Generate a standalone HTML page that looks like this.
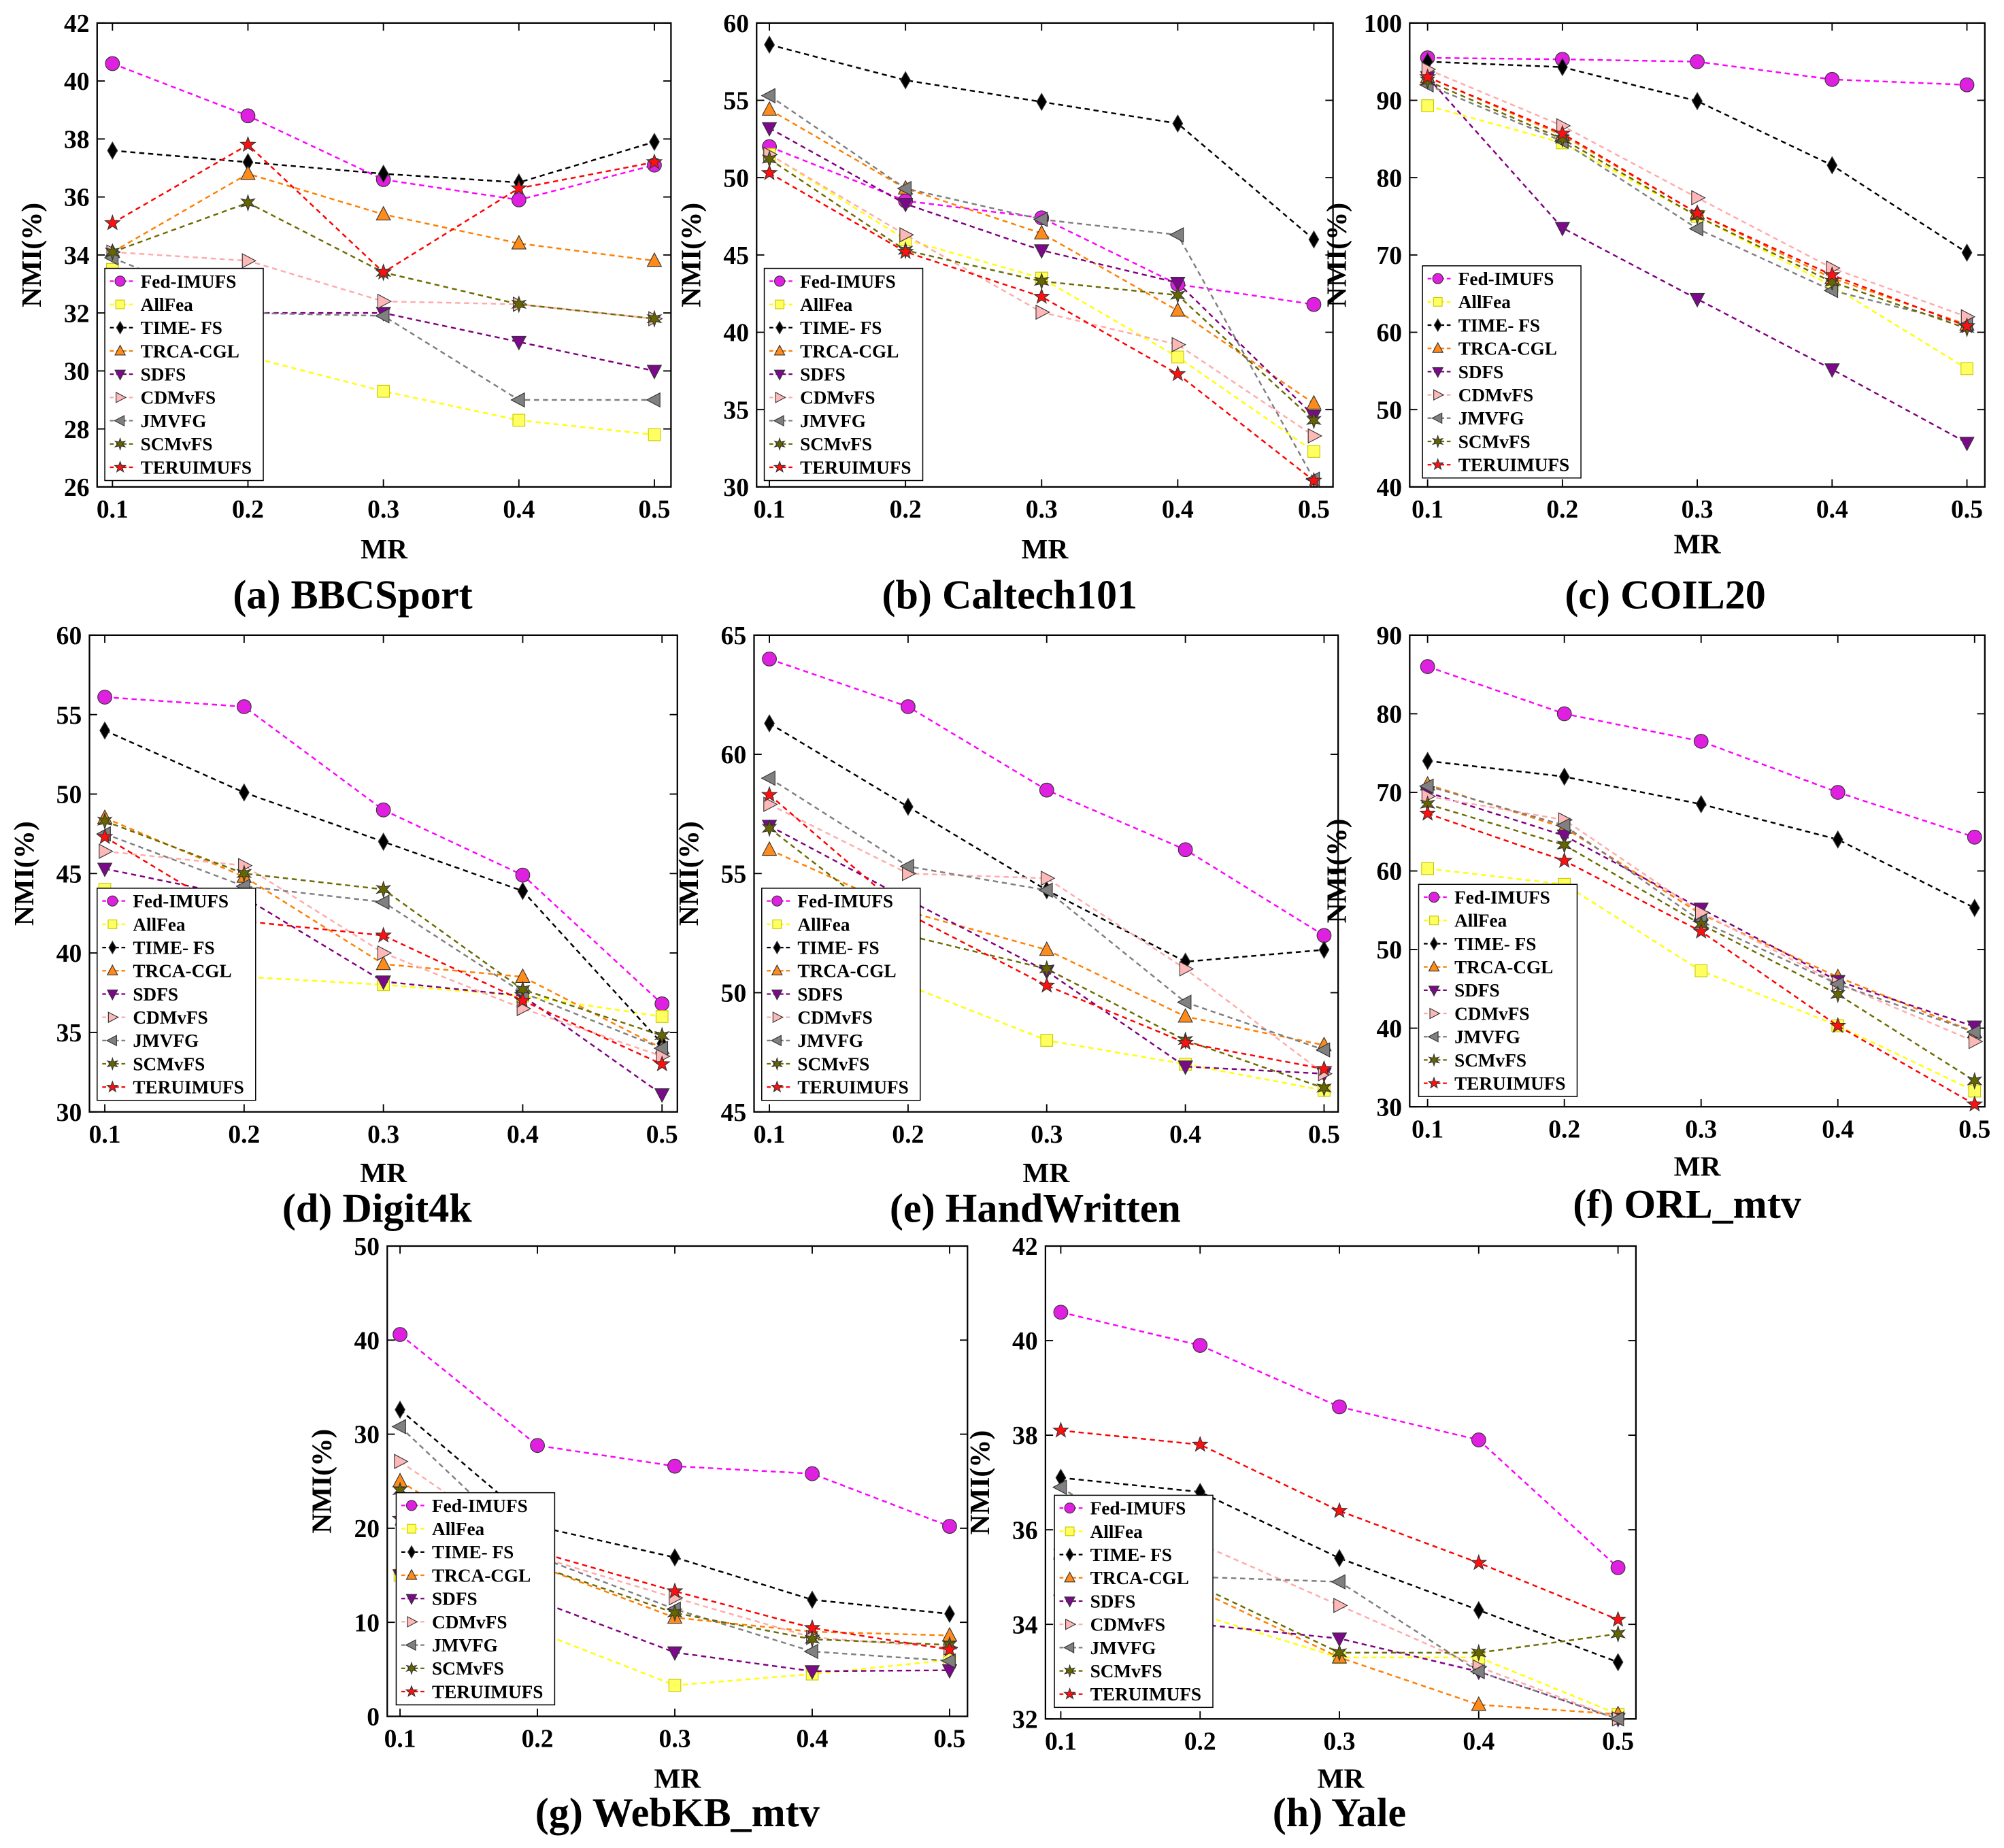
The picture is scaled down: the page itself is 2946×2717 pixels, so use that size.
<!DOCTYPE html>
<html><head><meta charset="utf-8"><style>
html,body{margin:0;padding:0;background:#fff}
svg{display:block}
text{font-family:"Liberation Serif",serif;font-weight:bold;fill:#000}
</style></head><body>
<svg id="fig" width="2946" height="2717" viewBox="0 0 1568 1446" preserveAspectRatio="none" xmlns="http://www.w3.org/2000/svg"></svg>
<script>
const mrValues=[0.1,0.2,0.3,0.4,0.5];
const seriesNames=["Fed-IMUFS","AllFea","TIME- FS","TRCA-CGL","SDFS","CDMvFS","JMVFG","SCMvFS","TERUIMUFS"];
const bbcsport=[[40.6,38.8,36.6,35.9,37.1],[33.5,30.5,29.3,28.3,27.8],[37.6,37.2,36.8,36.5,37.9],[34.1,36.8,35.4,34.4,33.8],[32.0,32.0,32.0,31.0,30.0],[34.1,33.8,32.4,32.3,31.8],[33.9,32.0,31.9,29.0,29.0],[34.1,35.8,33.4,32.3,31.8],[35.1,37.8,33.4,36.3,37.2]];
const caltech=[[52,48.5,47.4,43.1,41.8],[51.5,46,43.5,38.4,32.3],[58.6,56.3,54.9,53.5,46],[54.4,49.3,46.4,41.4,35.4],[53.2,48.3,45.3,43.2,34.6],[51.5,46.3,41.3,39.2,33.3],[55.3,49.3,47.3,46.3,30.5],[51.2,45.3,43.3,42.4,34.3],[50.3,45.2,42.3,37.3,30.4]];
const coil20=[[95.5,95.3,95,92.7,92],[89.3,84.5,75,66,55.3],[95,94.3,89.9,81.6,70.3],[93,85.5,75.4,67,61],[93,73.5,64.3,55.2,45.7],[94,86.7,77.4,68.3,62],[92,84.7,73.4,65.4,61],[92.5,85,75,66.5,60.5],[93,85.7,75.4,67.4,60.8]];
const digit4k=[[56.1,55.5,49,44.9,36.8],[44,38.5,38,37.3,36],[54,50.1,47,43.9,34.3],[48.5,44.8,39.3,38.5,34],[45.3,43.5,38.2,37.3,31.1],[46.4,45.5,40,36.5,33.5],[47.5,44.2,43.2,37.5,34],[48.3,45,44,37.7,34.8],[47.3,42,41.1,37,33]];
const handwritten=[[64,62,58.5,56,52.4],[51,50.3,48,47,45.9],[61.3,57.8,54.3,51.3,51.8],[56,53.4,51.8,49,47.8],[57,53.9,50.9,46.9,46.6],[57.9,55,54.8,51,46.6],[59,55.3,54.3,49.6,47.6],[56.9,52.4,51,48,46],[58.3,53.3,50.3,47.9,46.8]];
const orl=[[86,80,76.5,70,64.3],[60.3,58.3,47.3,40.3,32],[74,72,68.5,64,55.3],[71,65.5,54.5,46.5,39.5],[70,64.5,55.2,46,40.2],[69.5,66.5,54.7,45.7,38.3],[70.8,65.8,53.6,45.6,39.5],[68.5,63.3,53.2,44.3,33.3],[67.3,61.3,52.3,40.3,30.3]];
const webkb=[[40.6,28.8,26.6,25.8,20.2],[15,9,3.3,4.5,6],[32.6,20.2,16.9,12.4,10.9],[25,16,10.5,9,8.6],[15,12.3,6.8,4.8,4.9],[27.1,17,12.6,8.4,7.3],[30.8,17,11.4,6.9,5.9],[24,16,11,8.2,7.6],[21,17.5,13.3,9.4,7.1]];
const yale=[[40.6,39.9,38.6,37.9,35.2],[35,34.2,33.3,33.3,32.1],[37.1,36.8,35.4,34.3,33.2],[35.5,34.7,33.3,32.3,32.1],[34.5,34.0,33.7,33.0,32.0],[36.3,35.7,34.4,33.1,32.0],[36.9,35.0,34.9,33.0,32.0],[35.5,34.8,33.4,33.4,33.8],[38.1,37.8,36.4,35.3,34.1]];
const xTickLabels=["0.1","0.2","0.3","0.4","0.5"];

const colors=["#ff00ff","#ffff00","#000000","#ff7f00","#7f007f","#ffaaaa","#7f7f7f","#6b6b00","#ff0000"];
const fills=["#e020e0","#ffff60","#000000","#ff8c1a","#7a0a8a","#ffb8b8","#808080","#666600","#ff1010"];
const marks=["circle","square","diamond","up","down","right","left","hex","star"];

const panels=[
 {name:"bbcsport",title:"(a) BBCSport",data:bbcsport,L:76,R:525,T:18,B:381,x1:88,x5:512,ymin:26,ymax:42,step:2,leg:[82,210],tx:276,ty:476,mry:437,yo:44},
 {name:"caltech101",title:"(b) Caltech101",data:caltech,L:592,R:1043,T:18,B:381,x1:602,x5:1028,ymin:30,ymax:60,step:5,leg:[598,210],tx:790,ty:476,mry:437,yo:44},
 {name:"coil20",title:"(c) COIL20",data:coil20,L:1103,R:1553,T:18,B:381,x1:1117,x5:1539,ymin:40,ymax:100,step:10,leg:[1113,208],tx:1303,ty:476,mry:433,yo:50},
 {name:"digit4k",title:"(d) Digit4k",data:digit4k,L:70,R:530,T:497,B:870,x1:82,x5:518,ymin:30,ymax:60,step:5,leg:[76,695],tx:295,ty:956,mry:925,yo:44},
 {name:"handwritten",title:"(e) HandWritten",data:handwritten,L:590,R:1047,T:497,B:870,x1:602,x5:1036,ymin:45,ymax:65,step:5,leg:[596,695],tx:810,ty:956,mry:925,yo:44},
 {name:"orl-mtv",title:"(f) ORL_mtv",data:orl,L:1103,R:1553,T:497,B:866,x1:1117,x5:1545,ymin:30,ymax:90,step:10,leg:[1110,692],tx:1320,ty:953,mry:920,yo:50},
 {name:"webkb-mtv",title:"(g) WebKB_mtv",data:webkb,L:303,R:757,T:975,B:1343,x1:313,x5:743,ymin:0,ymax:50,step:10,leg:[310,1168],tx:530,ty:1429,mry:1399,yo:44},
 {name:"yale",title:"(h) Yale",data:yale,L:818,R:1280,T:975,B:1345,x1:830,x5:1266,ymin:32,ymax:42,step:2,leg:[825,1170],tx:1048,ty:1429,mry:1399,yo:44}
];
const NS="http://www.w3.org/2000/svg";
const svg=document.getElementById("fig");
function mk(tag,attrs,parent){const e=document.createElementNS(NS,tag);for(const k in attrs)e.setAttribute(k,attrs[k]);(parent||svg).appendChild(e);return e;}
function marker(g,type,x,y,i,s){
 s=s||5.5;let e;
 const st={fill:fills[i],stroke:i==1?"#c8c800":"#333","stroke-width":0.6};
 if(type=="circle"){e=mk("circle",Object.assign({cx:x,cy:y,r:s},st),g);}
 else if(type=="square"){e=mk("rect",Object.assign({x:x-s*0.85,y:y-s*0.85,width:s*1.7,height:s*1.7},st),g);}
 else{let p;
  if(type=="diamond")p=[[0,-s*1.2],[s*0.7,0],[0,s*1.2],[-s*0.7,0]];
  else if(type=="up")p=[[0,-s*1.1],[s,s*0.8],[-s,s*0.8]];
  else if(type=="down")p=[[0,s*1.1],[s,-s*0.8],[-s,-s*0.8]];
  else if(type=="right")p=[[s*1.1,0],[-s*0.8,s],[-s*0.8,-s]];
  else if(type=="left")p=[[-s*1.1,0],[s*0.8,s],[s*0.8,-s]];
  else {p=[];const n=type=="hex"?6:5;for(let k=0;k<2*n;k++){const a=-Math.PI/2+k*Math.PI/n;const r=k%2?s*0.45:s*1.1;p.push([r*Math.cos(a),r*Math.sin(a)]);}}
  e=mk("polygon",Object.assign({points:p.map(q=>(x+q[0])+","+(y+q[1])).join(" ")},st),g);}
 return e;
}
panels.forEach(P=>{
 const g=mk("g",{});
 
 
 const xs=v=>P.x1+(v-0.1)/0.4*(P.x5-P.x1);
 const ys=v=>P.B-(v-P.ymin)/(P.ymax-P.ymin)*(P.B-P.T);
 mk("rect",{x:P.L,y:P.T,width:P.R-P.L,height:P.B-P.T,fill:"#fff",stroke:"#000","stroke-width":1.2},g);
 for(let v=P.ymin;v<=P.ymax+1e-9;v+=P.step){
  const y=ys(v);
  mk("line",{x1:P.L,x2:P.L+6,y1:y,y2:y,stroke:"#000"},g);
  mk("line",{x1:P.R,x2:P.R-6,y1:y,y2:y,stroke:"#000"},g);
  const t=mk("text",{x:P.L-6,y:y+7,"text-anchor":"end","font-size":20},g);t.textContent=v;
  
  
 }
 mrValues.forEach((v,k)=>{
  const x=xs(v);
  mk("line",{x1:x,x2:x,y1:P.B,y2:P.B-6,stroke:"#000"},g);
  mk("line",{x1:x,x2:x,y1:P.T,y2:P.T+6,stroke:"#000"},g);
  const t=mk("text",{x:x,y:P.B+24,"text-anchor":"middle","font-size":20},g);t.textContent=xTickLabels[k];
  
  
 });
 const xl=mk("text",{x:(P.L+P.R)/2,y:P.mry,"text-anchor":"middle","font-size":22},g);xl.textContent="MR";
 
 
 const yc=(P.T+P.B)/2, yx=P.L-P.yo;
 const yl=mk("text",{x:yx,y:yc,"text-anchor":"middle","font-size":22,transform:`rotate(-90 ${yx} ${yc})`},g);yl.textContent="NMI(%)";
 
 
 const tt=mk("text",{x:P.tx,y:P.ty,"text-anchor":"middle","font-size":32},g);tt.textContent=P.title;
 
 
 P.data.forEach((arr,i)=>{
  const pts=arr.map((v,k)=>xs(mrValues[k])+","+ys(v)).join(" ");
  const pl=mk("polyline",{points:pts,fill:"none",stroke:colors[i],"stroke-width":1.3,"stroke-dasharray":"4,3"},g);
  
  
  arr.forEach((v,k)=>{
   const m=marker(g,marks[i],xs(mrValues[k]),ys(v),i);
   
   
  });
 });
 const lg=mk("g",{},g);
 
 
 const lx=P.leg[0],ly=P.leg[1];
 mk("rect",{x:lx,y:ly,width:124,height:166,fill:"#fff",stroke:"#000","stroke-width":0.8},lg);
 seriesNames.forEach((n,i)=>{
  const y=ly+10+i*18.2;
  mk("line",{x1:lx+4,x2:lx+24,y1:y,y2:y,stroke:colors[i],"stroke-width":1.2,"stroke-dasharray":"3,2"},lg);
  marker(lg,marks[i],lx+12,y,i,4);
  const t=mk("text",{x:lx+28,y:y+5,"font-size":14.5},lg);t.textContent=n;
  
  
 });
});
</script>
</body></html>
